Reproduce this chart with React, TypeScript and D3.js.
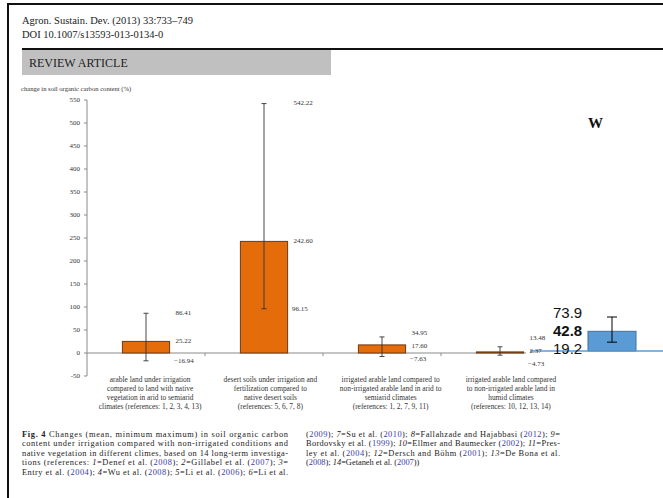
import React from "react";
import * as d3 from "d3";

const categories = ["c1", "c2", "c3", "c4"];
const categoryLines = [
  ["arable land under irrigation", "compared to land with native", "vegetation in arid to semiarid", "climates (references:  1, 2, 3, 4, 13)"],
  ["desert soils under irrigation and", "fertilization compared to", "native desert soils", "(references: 5, 6, 7, 8)"],
  ["irrigated arable land compared to", "non-irrigated arable land in arid to", "semiarid climates", "(references: 1, 2, 7, 9, 11)"],
  ["irrigated arable land compared", "to non-irrigated arable land in", "humid climates", "(references: 10, 12, 13, 14)"],
];
const meanValues = [25.22, 242.6, 17.6, 2.37];
const minValues = [-16.94, 96.15, -7.63, -4.73];
const maxValues = [86.41, 542.22, 34.95, 13.48];
const yTickValues = [-50, 0, 50, 100, 150, 200, 250, 300, 350, 400, 450, 500, 550];

const overlayMean = 42.8;
const overlayMin = 19.2;
const overlayMax = 73.9;

const headerLines = ["Agron. Sustain. Dev. (2013) 33:733\u2013749", "DOI 10.1007/s13593-013-0134-0"];
const sectionTitle = "REVIEW ARTICLE";
const yAxisTitle = "change in soil organic carbon content (%)";

const captionCol1 = [
  "**Fig. 4** Changes (mean, minimum maximum) in soil organic carbon",
  "content under irrigation compared with non-irrigated conditions and",
  "native vegetation in different climes, based on 14 long-term investiga-",
  "tions (references: *1*=Denef et al. ({2008}); *2*=Gillabel et al. ({2007}); *3*=",
  "Entry et al. ({2004}); *4*=Wu et al. ({2008}); *5*=Li et al. ({2006}); *6*=Li et al.",
];
const captionCol2 = [
  "({2009}); *7*=Su et al. ({2010}); *8*=Fallahzade and Hajabbasi ({2012}); *9*=",
  "Bordovsky et al. ({1999}); *10*=Ellmer and Baumecker ({2002}); *11*=Pres-",
  "ley et al. ({2004}); *12*=Dersch and B\u00f6hm ({2001}); *13*=De Bona et al.",
  "({2008}); *14*=Getaneh et al. ({2007}))",
];

const SERIF = "'Liberation Serif', 'DejaVu Serif', serif";
const SANS = "'Liberation Sans', Arial, sans-serif";

function renderRich(line: string, key: string) {
  const parts = line.split(/(\*\*[^*]+\*\*|\*[^*]+\*|\{[^}]+\})/).filter((p) => p.length > 0);
  return parts.map((p, i) => {
    if (p.startsWith("**")) return <tspan key={key + i} fontWeight="bold">{p.slice(2, -2)}</tspan>;
    if (p.startsWith("*")) return <tspan key={key + i} fontStyle="italic">{p.slice(1, -1)}</tspan>;
    if (p.startsWith("{")) return <tspan key={key + i} fill="#3b3ba8">{p.slice(1, -1)}</tspan>;
    return <tspan key={key + i}>{p}</tspan>;
  });
}

// spread label positions (top-to-bottom order) so they keep a minimum gap
function relax(pos: number[], gap: number) {
  const p = pos.slice();
  for (let k = 0; k < 200; k++) {
    let moved = false;
    for (let i = 0; i < p.length - 1; i++) {
      const d = p[i + 1] - p[i];
      if (d < gap - 0.01) {
        const s = (gap - d) / 2;
        p[i] -= s;
        p[i + 1] += s;
        moved = true;
      }
    }
    if (!moved) break;
  }
  return p;
}

export default function App() {
  const W = 663;
  const H = 498;

  const y = d3.scaleLinear().domain([-50, 550]).range([376, 100]);
  const yOverlay = d3.scaleLinear().domain([-50, 550]).range([374, 98]);
  const x = d3.scaleBand<string>().domain(categories).range([87, 559]);
  const labelX = d3.scaleBand<string>().domain(categories).range([90, 571]);
  const xOverlay = d3.scaleBand<string>().domain(["overlay"]).range([564, 660]);
  const barW = x.bandwidth() * 0.4;
  const overlayStart = 530;

  const fmt = d3.format(".2f");

  const ocx = xOverlay("overlay")! + xOverlay.bandwidth() / 2;
  const obw = xOverlay.bandwidth() * 0.5;
  const [oTop, oMid, oBot] = relax([yOverlay(overlayMax), yOverlay(overlayMean), yOverlay(overlayMin)], 18);

  return (
    <svg width={W} height={H} style={{ position: "absolute", left: 0, top: 0, background: "#fff" }}>
      <rect x={0} y={0} width={W} height={H} fill="#fff" />
      {/* page frame */}
      <line x1={8} y1={4} x2={663} y2={4} stroke="#111" strokeWidth={2} />
      <line x1={8} y1={3} x2={8} y2={498} stroke="#111" strokeWidth={2} />
      <line x1={22} y1={49} x2={663} y2={49} stroke="#111" strokeWidth={2} />

      {headerLines.map((t, i) => (
        <text key={t} x={22} y={24 + i * 14} fontFamily={SERIF} fontSize={10.5} fill="#222">{t}</text>
      ))}
      <rect x={22} y={50} width={309} height={25} fill="#c0c0c0" />
      <text x={29} y={66.5} fontFamily={SERIF} fontSize={12} fill="#222">{sectionTitle}</text>

      <text x={21} y={91} fontFamily={SERIF} fontSize={6.6} fill="#333">{yAxisTitle}</text>
      <text x={588} y={128} fontFamily={SERIF} fontSize={15} fontWeight="bold" fill="#111">W</text>

      {/* overlay (blue) */}
      <g>
        <rect x={ocx - obw / 2} y={yOverlay(overlayMean)} width={obw} height={yOverlay(0) - yOverlay(overlayMean)} fill="#5b9bd5" stroke="#41719c" strokeWidth={1} />
        <line x1={overlayStart} x2={663} y1={yOverlay(0)} y2={yOverlay(0)} stroke="#5b9bd5" strokeWidth={1.5} />
        <line x1={ocx} x2={ocx} y1={yOverlay(overlayMax)} y2={yOverlay(overlayMin)} stroke="#000" strokeWidth={1} />
        <line x1={ocx - 5} x2={ocx + 5} y1={yOverlay(overlayMax)} y2={yOverlay(overlayMax)} stroke="#000" strokeWidth={1} />
        <line x1={ocx - 5} x2={ocx + 5} y1={yOverlay(overlayMin)} y2={yOverlay(overlayMin)} stroke="#000" strokeWidth={1} />
        <text x={553} y={oTop} dy="0.36em" fontFamily={SANS} fontSize={15} fill="#111">{overlayMax.toFixed(1)}</text>
        <text x={553} y={oMid} dy="0.36em" fontFamily={SANS} fontSize={15} fontWeight="bold" fill="#111">{overlayMean.toFixed(1)}</text>
        <text x={553} y={oBot} dy="0.36em" fontFamily={SANS} fontSize={15} fill="#111">{overlayMin.toFixed(1)}</text>
      </g>

      {/* y axis */}
      <line x1={87} y1={y(-50)} x2={87} y2={y(550)} stroke="#8a8a8a" strokeWidth={1} />
      {yTickValues.map((v) => (
        <g key={v}>
          <line x1={84} x2={87} y1={y(v)} y2={y(v)} stroke="#8a8a8a" />
          <text x={80} y={y(v)} dy="0.35em" textAnchor="end" fontFamily={SERIF} fontSize={7} fill="#333">{v}</text>
        </g>
      ))}

      {/* x axis */}
      <line x1={87} y1={y(0)} x2={overlayStart - 4} y2={y(0)} stroke="#8a8a8a" strokeWidth={1} />
      {categories.slice(1).map((c) => (
        <line key={c} x1={x(c)!} x2={x(c)!} y1={y(0)} y2={y(0) + 3} stroke="#8a8a8a" />
      ))}

      {/* bars */}
      {categories.map((c, i) => {
        const cx = x(c)! + x.bandwidth() / 2;
        const top = y(Math.max(0, meanValues[i]));
        const h = Math.abs(y(meanValues[i]) - y(0));
        const [yTop, mid, yBot] = relax([y(maxValues[i]), y(meanValues[i]), y(minValues[i])], 12.5);
        const lx = cx + barW / 2 + 6;
        return (
          <g key={c}>
            <rect x={cx - barW / 2} y={top} width={barW} height={h} fill="#e46c0a" stroke="#6e3a12" strokeWidth={1} />
            <line x1={cx} x2={cx} y1={y(maxValues[i])} y2={y(minValues[i])} stroke="#333" strokeWidth={0.9} />
            <line x1={cx - 2.5} x2={cx + 2.5} y1={y(maxValues[i])} y2={y(maxValues[i])} stroke="#333" strokeWidth={0.9} />
            <line x1={cx - 2.5} x2={cx + 2.5} y1={y(minValues[i])} y2={y(minValues[i])} stroke="#333" strokeWidth={0.9} />
            <text x={lx} y={yTop} dy="0.2em" fontFamily={SERIF} fontSize={7} fill="#333">{fmt(maxValues[i])}</text>
            <text x={lx} y={mid} dy="0.2em" fontFamily={SERIF} fontSize={7} fill="#333">{fmt(meanValues[i])}</text>
            <text x={lx - 1.5} y={yBot} dy="0.35em" fontFamily={SERIF} fontSize={7} fill="#333">{fmt(minValues[i])}</text>
            {categoryLines[i].map((t, j) => (
              <text key={j} x={labelX(c)! + labelX.bandwidth() / 2} y={379 + j * 9} dy="0.35em" textAnchor="middle" fontFamily={SERIF} fontSize={7.4} fill="#333">{t}</text>
            ))}
          </g>
        );
      })}

      {/* caption */}
      {captionCol1.map((t, i) => (
        <text key={"a" + i} x={22} y={434 + i * 9.4} dy="0.35em" fontFamily={SERIF} fontSize={8.4} fill="#222" textLength={266} lengthAdjust="spacing">
          {renderRich(t, "a" + i)}
        </text>
      ))}
      {captionCol2.map((t, i) => (
        <text key={"b" + i} x={306} y={434 + i * 9.4} dy="0.35em" fontFamily={SERIF} fontSize={8.4} fill="#222" {...(i < captionCol2.length - 1 ? { textLength: 254, lengthAdjust: "spacing" } : {})}>
          {renderRich(t, "b" + i)}
        </text>
      ))}
    </svg>
  );
}
